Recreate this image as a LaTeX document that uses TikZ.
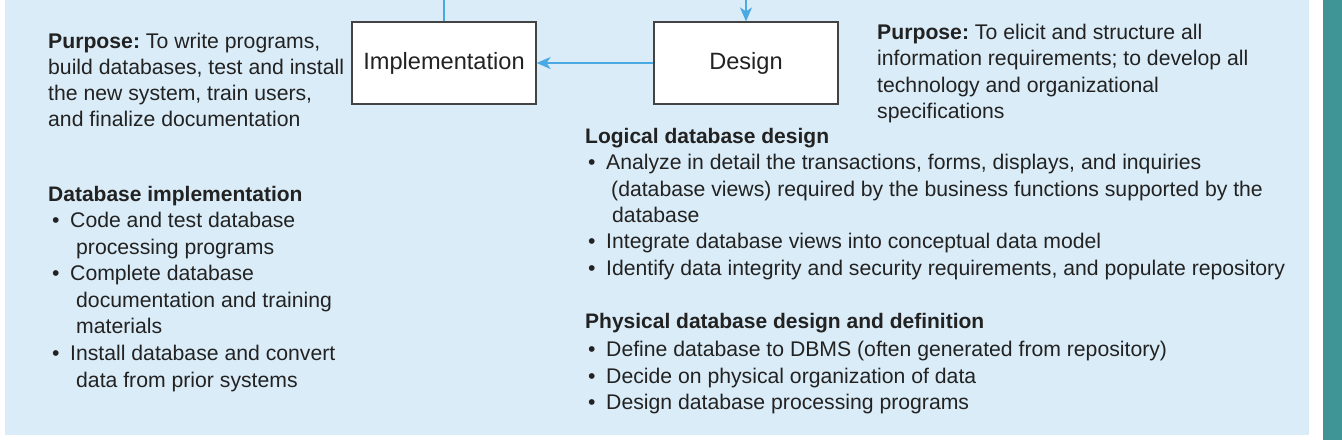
\documentclass[tikz,border=0pt]{standalone}
\usepackage{fontspec}
\setmainfont{Liberation Sans}
\usetikzlibrary{arrows.meta}
\definecolor{panel}{HTML}{DAECF7}
\definecolor{strip}{HTML}{3F9595}
\definecolor{link}{HTML}{4AA8E2}
\definecolor{ink}{HTML}{222222}
\frenchspacing
\begin{document}
\begin{tikzpicture}[x=1pt,y=-1pt,
  body/.style={anchor=base west, inner sep=0pt, font=\fontsize{21.2}{26}\selectfont, text=ink},
  head/.style={body, font=\fontsize{21}{26}\selectfont\bfseries},
  phase/.style={draw=ink!85, fill=white, line width=1.2pt, minimum width=184pt, minimum height=82pt, inner sep=0pt, font=\fontsize{23.6}{28}\selectfont, text=ink},
  flow/.style={draw=link, line width=1.8pt},
  tip/.style={-{Stealth[length=14pt,width=12pt,inset=4pt]}}
]
\useasboundingbox (0,0) rectangle (1342,440);
\fill[panel] (5,0) rectangle (1309,435);
\fill[strip] (1323,0) rectangle (1342,440);

% phase boxes
\node[phase] (impl) at (444,63) {Implementation};
\node[phase] (design) at (746,63) {Design};
\coordinate (topA) at (444,0);
\coordinate (topB) at (746,0);
\draw[flow] (topA) -- (impl.north);
\draw[flow,tip] (topB) -- (design.north);
\draw[flow,tip] (design.west) -- (impl.east);

% left purpose
\node[body] (pl1) at (48,48) {\textbf{Purpose:} To write programs,};
\node[body] (pl2) at (48,74) {build databases, test and install};
\node[body] (pl3) at (48,100) {the new system, train users,};
\node[body] (pl4) at (48,126) {and finalize documentation};

% right purpose
\node[body] (pr1) at (877,39) {\textbf{Purpose:} To elicit and structure all};
\node[body] (pr2) at (877,65) {information requirements; to develop all};
\node[body] (pr3) at (877,92) {technology and organizational};
\node[body] (pr4) at (877,118) {specifications};

% database implementation
\node[head] (dih) at (48,201) {Database implementation};
\node[body] (dib1) at (52,227) {•};
\node[body] (di1) at (70,227) {Code and test database};
\node[body] (di1b) at (76,254) {processing programs};
\node[body] (dib2) at (52,280) {•};
\node[body] (di2) at (70,280) {Complete database};
\node[body] (di2b) at (76,307) {documentation and training};
\node[body] (di2c) at (76,333) {materials};
\node[body] (dib3) at (52,360) {•};
\node[body] (di3) at (70,360) {Install database and convert};
\node[body] (di3b) at (76,387) {data from prior systems};

% logical database design
\node[head] (ldh) at (585,143) {Logical database design};
\node[body] (ldb1) at (588,169) {•};
\node[body] (ld1) at (606,169) {Analyze in detail the transactions, forms, displays, and inquiries};
\node[body] (ld1b) at (611,196) {(database views) required by the business functions supported by the};
\node[body] (ld1c) at (612,222) {database};
\node[body] (ldb2) at (588,248) {•};
\node[body] (ld2) at (606,248) {Integrate database views into conceptual data model};
\node[body] (ldb3) at (588,275) {•};
\node[body] (ld3) at (606,275) {Identify data integrity and security requirements, and populate repository};

% physical database design
\node[head] (pdh) at (585,328) {Physical database design and definition};
\node[body] (pdb1) at (588,356) {•};
\node[body] (pd1) at (606,356) {Define database to DBMS (often generated from repository)};
\node[body] (pdb2) at (588,383) {•};
\node[body] (pd2) at (606,383) {Decide on physical organization of data};
\node[body] (pdb3) at (588,409) {•};
\node[body] (pd3) at (606,409) {Design database processing programs};
\end{tikzpicture}
\end{document}
